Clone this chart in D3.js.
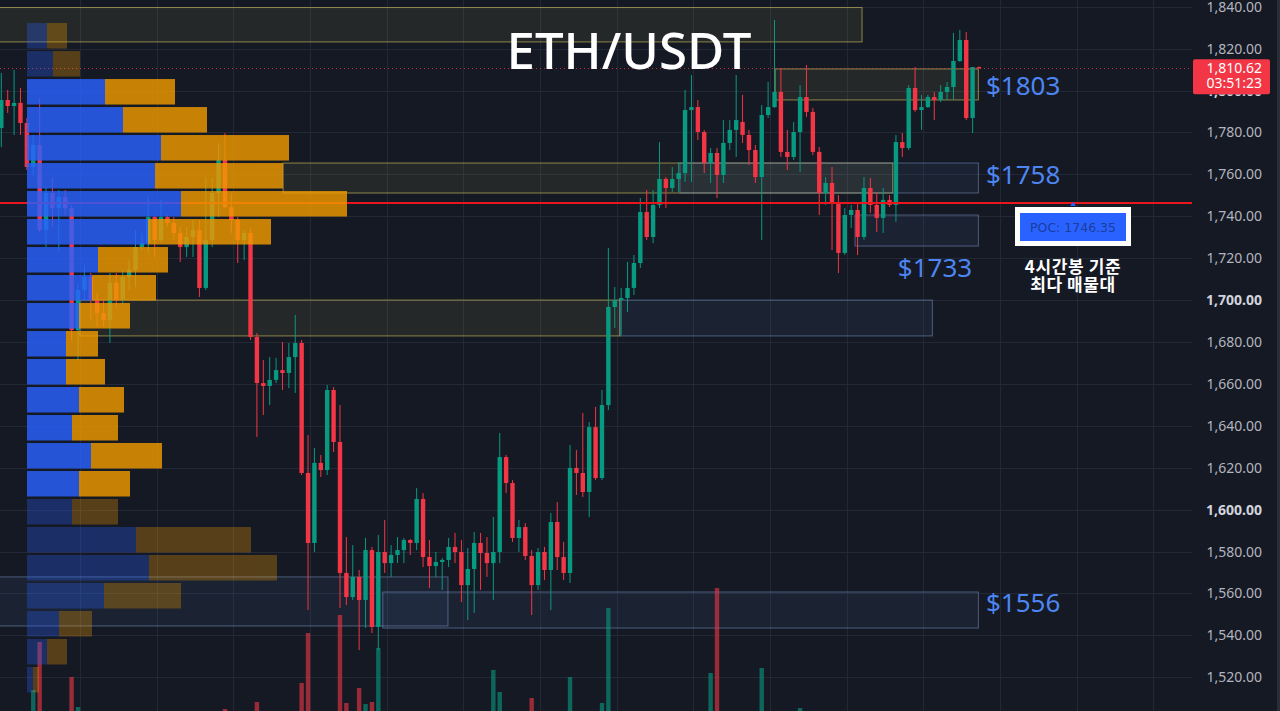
<!DOCTYPE html>
<html>
<head>
<meta charset="utf-8">
<script src="https://cdn.jsdelivr.net/npm/d3@7"></script>
<style>
  html, body { margin: 0; padding: 0; background: #151924; overflow: hidden; }
  svg { display: block; }
</style>
</head>
<body>
<div id="chart-area"></div>
<script>
const width = 1280;
const height = 711;
const plotRight = 1192;

// 4H candles: [open, high, low, close]
const candles = [
  [1782.1, 1808.4, 1773.0, 1795.5], [1795.5, 1800.3, 1789.3, 1792.6], [1792.6, 1809.8, 1778.8, 1794.1],
  [1794.1, 1801.2, 1778.8, 1784.5], [1784.5, 1786.9, 1762.1, 1763.5], [1763.5, 1778.8, 1759.7, 1774.0],
  [1774.0, 1796.4, 1732.5, 1733.4], [1733.4, 1754.0, 1725.3, 1751.1], [1751.1, 1758.3, 1734.9, 1743.9],
  [1743.9, 1752.5, 1723.0, 1749.2], [1749.2, 1752.5, 1740.6, 1743.9], [1743.9, 1745.4, 1681.0, 1685.7],
  [1685.7, 1708.2, 1671.4, 1704.8], [1704.8, 1716.7, 1700.0, 1711.0], [1711.0, 1712.9, 1690.5, 1700.0],
  [1700.0, 1703.4, 1687.2, 1693.8], [1693.8, 1700.0, 1687.2, 1690.5], [1690.5, 1712.9, 1679.5, 1708.2],
  [1708.2, 1712.9, 1696.7, 1700.0], [1700.0, 1714.4, 1697.7, 1711.0], [1711.0, 1719.1, 1704.8, 1714.4],
  [1714.4, 1733.4, 1706.2, 1725.3], [1725.3, 1732.0, 1723.9, 1727.2], [1727.2, 1749.2, 1722.5, 1739.6],
  [1739.6, 1740.5, 1720.6, 1728.7], [1728.7, 1747.8, 1727.5, 1739.6], [1739.6, 1740.6, 1734.9, 1736.8],
  [1736.8, 1739.6, 1728.7, 1732.0], [1732.0, 1734.9, 1718.2, 1725.3], [1725.3, 1734.9, 1720.6, 1730.1],
  [1730.1, 1738.2, 1720.6, 1733.4], [1733.4, 1738.2, 1701.5, 1705.8], [1705.8, 1758.7, 1704.8, 1728.7],
  [1728.7, 1758.3, 1725.3, 1751.1], [1751.1, 1775.0, 1739.6, 1766.9], [1766.9, 1779.7, 1743.9, 1744.4],
  [1744.4, 1751.1, 1732.0, 1738.2], [1738.2, 1739.6, 1717.7, 1728.7], [1728.7, 1733.4, 1719.1, 1732.0],
  [1732.0, 1734.4, 1681.0, 1682.4], [1682.4, 1684.3, 1634.7, 1660.4], [1660.4, 1671.4, 1645.2, 1659.0],
  [1659.0, 1672.8, 1649.9, 1661.9], [1661.9, 1672.4, 1660.4, 1666.6], [1666.6, 1680.0, 1657.1, 1665.2],
  [1665.2, 1679.5, 1658.0, 1672.8], [1672.8, 1692.9, 1655.7, 1679.5], [1679.5, 1681.0, 1616.5, 1617.5],
  [1617.5, 1635.6, 1552.1, 1584.1], [1584.1, 1629.4, 1579.8, 1622.3], [1622.3, 1626.1, 1615.6, 1618.9],
  [1618.9, 1659.5, 1616.5, 1657.1], [1657.1, 1658.5, 1627.5, 1632.3], [1632.3, 1649.9, 1553.1, 1569.8],
  [1569.8, 1586.9, 1554.5, 1558.3], [1558.3, 1583.1, 1556.9, 1567.9], [1567.9, 1571.2, 1533.0, 1556.9],
  [1556.9, 1586.5, 1543.5, 1580.7], [1580.7, 1582.2, 1541.1, 1544.0], [1544.0, 1587.9, 1533.0, 1579.8],
  [1579.8, 1595.1, 1569.8, 1574.5], [1574.5, 1583.1, 1567.9, 1578.4], [1578.4, 1586.9, 1574.5, 1580.7],
  [1580.7, 1586.5, 1574.5, 1585.5], [1585.5, 1586.0, 1578.4, 1584.1], [1584.1, 1610.3, 1580.7, 1605.1],
  [1605.1, 1607.9, 1572.6, 1577.4], [1577.4, 1585.5, 1562.6, 1573.1], [1573.1, 1579.8, 1567.9, 1575.0],
  [1575.0, 1576.9, 1561.7, 1576.0], [1576.0, 1586.5, 1572.6, 1582.2], [1582.2, 1588.9, 1574.5, 1579.8],
  [1579.8, 1585.5, 1555.9, 1564.0], [1564.0, 1581.7, 1547.3, 1571.7], [1571.7, 1589.3, 1550.7, 1584.1],
  [1584.1, 1588.9, 1561.7, 1579.3], [1579.3, 1586.9, 1567.9, 1574.5], [1574.5, 1596.5, 1556.9, 1579.8],
  [1579.8, 1636.6, 1574.5, 1625.1], [1625.1, 1626.1, 1607.9, 1612.7], [1612.7, 1614.1, 1584.6, 1586.5],
  [1586.5, 1595.1, 1579.8, 1591.7], [1591.7, 1593.6, 1576.0, 1577.9], [1577.9, 1580.7, 1549.7, 1564.0],
  [1564.0, 1581.7, 1561.7, 1579.8], [1579.8, 1582.2, 1566.4, 1571.2], [1571.2, 1598.4, 1552.1, 1594.1],
  [1594.1, 1603.6, 1571.2, 1577.4], [1577.4, 1584.6, 1566.4, 1569.8], [1569.8, 1630.8, 1565.0, 1619.9],
  [1619.9, 1628.5, 1607.0, 1617.5], [1617.5, 1646.1, 1606.0, 1608.4], [1608.4, 1641.8, 1596.5, 1639.4],
  [1639.4, 1649.0, 1614.1, 1615.1], [1615.1, 1657.1, 1614.1, 1649.9], [1649.9, 1724.9, 1647.5, 1696.7],
  [1696.7, 1706.2, 1686.7, 1700.0], [1700.0, 1705.8, 1683.3, 1701.0], [1701.0, 1718.2, 1694.3, 1705.8],
  [1705.8, 1721.5, 1702.4, 1717.7], [1717.7, 1748.7, 1715.3, 1742.0], [1742.0, 1752.5, 1728.7, 1730.1],
  [1730.1, 1752.5, 1727.2, 1745.4], [1745.4, 1775.4, 1743.9, 1757.8], [1757.8, 1758.7, 1743.9, 1753.5],
  [1753.5, 1763.5, 1751.6, 1757.8], [1757.8, 1765.9, 1751.6, 1760.6], [1760.6, 1800.3, 1756.4, 1790.7],
  [1790.7, 1807.4, 1756.4, 1792.1], [1792.1, 1795.5, 1776.4, 1780.2], [1780.2, 1781.2, 1760.6, 1765.4],
  [1765.4, 1772.6, 1755.9, 1770.2], [1770.2, 1772.6, 1748.7, 1759.7], [1759.7, 1785.9, 1755.9, 1775.0],
  [1775.0, 1785.9, 1771.6, 1781.2], [1781.2, 1807.4, 1768.3, 1785.9], [1785.0, 1797.9, 1775.0, 1778.8],
  [1778.8, 1781.2, 1764.5, 1771.6], [1771.6, 1774.0, 1755.9, 1758.7], [1758.7, 1793.1, 1728.7, 1788.3],
  [1788.3, 1804.1, 1786.9, 1792.1], [1792.1, 1833.7, 1791.7, 1799.3], [1799.3, 1810.8, 1768.3, 1770.7],
  [1770.7, 1781.2, 1762.1, 1768.3], [1768.3, 1785.0, 1766.9, 1780.2], [1780.2, 1802.6, 1761.1, 1796.9],
  [1796.9, 1812.2, 1787.4, 1789.8], [1789.8, 1791.7, 1769.2, 1770.7], [1770.7, 1773.0, 1740.6, 1751.1],
  [1751.1, 1758.7, 1745.4, 1755.9], [1755.9, 1763.5, 1723.9, 1746.3], [1746.3, 1750.1, 1712.9, 1722.5],
  [1722.5, 1743.9, 1721.5, 1740.6], [1740.6, 1745.4, 1734.4, 1743.0], [1743.0, 1746.8, 1721.5, 1730.1],
  [1730.1, 1758.7, 1728.7, 1753.5], [1753.5, 1758.3, 1741.6, 1745.4], [1745.4, 1751.1, 1732.5, 1739.2],
  [1739.2, 1753.5, 1732.0, 1747.8], [1747.8, 1750.1, 1744.4, 1745.4], [1745.4, 1778.8, 1737.3, 1775.4],
  [1775.4, 1779.7, 1768.3, 1772.6], [1772.6, 1802.6, 1771.6, 1801.2], [1801.2, 1811.2, 1789.8, 1790.7],
  [1790.7, 1797.9, 1781.2, 1792.1], [1792.1, 1797.9, 1791.7, 1796.9], [1796.9, 1799.3, 1785.9, 1795.5],
  [1795.5, 1802.6, 1794.5, 1799.3], [1799.3, 1804.1, 1795.5, 1801.7], [1801.7, 1827.5, 1795.5, 1814.1],
  [1814.1, 1828.9, 1813.6, 1824.1], [1824.1, 1827.9, 1785.9, 1786.9], [1786.9, 1811.2, 1779.7, 1811.2],
  [1811.2, 1811.5, 1810.3, 1810.62]
];

// volume of the candles whose bars reach into view: [candle index, volume (K)]
const volumes = [
  [5, 50], [6, 98], [11, 63], [12, 33], [35, 31], [40, 38], [47, 57], [48, 107], [53, 125],
  [54, 37], [56, 52], [57, 36], [58, 38], [59, 92], [77, 70], [78, 48], [83, 42], [89, 63],
  [94, 37], [95, 132], [111, 67], [112, 152], [119, 72], [125, 32]
];

// volume profile, rows from the top price down
const profileTop = 1832.2;
const profileStep = 13.36;
const profileBuy  = [20, 26, 78, 96, 134, 128, 154, 121, 71, 65, 52, 39, 39, 52, 45, 64, 52, 45, 109, 122, 77, 32, 20, 6];
const profileSell = [20, 27, 70, 84, 128, 128, 166, 123, 70, 64, 51, 32, 39, 45, 46, 71, 51, 46, 115, 128, 77, 33, 20, 6];
const valueArea = [2, 16]; // first and last row inside the value area

// zones: candle index from/to, price top/bottom
const supplyZones = [
  { from: -0.5, to: 134.7, top: 1839.6, bottom: 1823.2 },
  { from: 121.1, to: 152.9, top: 1810.3, bottom: 1795.5 },
  { from: 44.1, to: 139.5, top: 1765.4, bottom: 1751.1 },
  { from: 12.3, to: 96.8, top: 1700.0, bottom: 1682.9 }
];
const demandZones = [
  { from: 106.2, to: 152.9, top: 1765.4, bottom: 1751.1 },
  { from: 133.6, to: 152.9, top: 1740.6, bottom: 1725.8 },
  { from: 96.8, to: 145.7, top: 1700.0, bottom: 1682.9 },
  { from: -0.5, to: 69.9, top: 1567.9, bottom: 1544.5 },
  { from: 59.7, to: 152.9, top: 1560.7, bottom: 1543.5 }
];

// level labels right of the zones, and the price each is centred on
const levelLabels = ['$1803', '$1758', '$1556'];
const levelAnchors = [1802.2, 1759.7, 1555.4];

const priceTicks = [1520, 1540, 1560, 1580, 1600, 1620, 1640, 1660, 1680, 1700, 1720, 1740, 1760, 1780, 1800, 1820, 1840];
const poc = 1746.35;
const lastPrice = 1810.62;
const countdown = '03:51:23';
const pocNote = ['4시간봉 기준', '최다 매물대'];

const up = '#089981';
const down = '#f23645';

const svg = d3.select('#chart-area')
    .append('svg')
    .attr('width', width)
    .attr('height', height)
    .style('background', '#151924');

const defs = svg.append('defs');
defs.append('clipPath')
    .attr('id', 'plot-clip')
    .append('rect')
    .attr('width', plotRight)
    .attr('height', height);

// Scales
const x = d3.scaleLinear()
    .domain([0, candles.length - 1])
    .range([1.3, 979]);

const y = d3.scaleLinear()
    .domain([1520, 1840])
    .range([677.3, 6.7]);

const vol = d3.scaleLinear()
    .domain([0, 200])
    .range([740, 540]);

const prof = d3.scaleLinear()
    .domain([0, 320])
    .range([27, 347]);

const plot = svg.append('g').attr('clip-path', 'url(#plot-clip)');

// Grid
plot.append('g')
    .selectAll('line')
    .data(priceTicks)
    .join('line')
    .attr('x1', 0)
    .attr('x2', plotRight)
    .attr('y1', (d) => Math.round(y(d)) + 0.5)
    .attr('y2', (d) => Math.round(y(d)) + 0.5)
    .attr('stroke', '#232836');

plot.append('g')
    .selectAll('line')
    .data(d3.range(12.3, 190, 12))
    .join('line')
    .attr('x1', (d) => Math.round(x(d)) + 0.5)
    .attr('x2', (d) => Math.round(x(d)) + 0.5)
    .attr('y1', 0)
    .attr('y2', height)
    .attr('stroke', '#232836');

// Zones
plot.append('g')
    .selectAll('rect')
    .data(supplyZones)
    .join('rect')
    .attr('x', (d) => x(d.from))
    .attr('y', (d) => y(d.top))
    .attr('width', (d) => x(d.to) - x(d.from))
    .attr('height', (d) => y(d.bottom) - y(d.top))
    .attr('fill', 'rgba(255, 235, 100, 0.07)')
    .attr('stroke', 'rgba(215, 200, 95, 0.6)');

plot.append('g')
    .selectAll('rect')
    .data(demandZones)
    .join('rect')
    .attr('x', (d) => x(d.from))
    .attr('y', (d) => y(d.top))
    .attr('width', (d) => x(d.to) - x(d.from))
    .attr('height', (d) => y(d.bottom) - y(d.top))
    .attr('fill', 'rgba(90, 130, 200, 0.09)')
    .attr('stroke', 'rgba(130, 160, 210, 0.5)');

// Volume bars
plot.append('g')
    .selectAll('rect')
    .data(volumes)
    .join('rect')
    .attr('x', (d) => x(d[0]) - 2.2)
    .attr('y', (d) => vol(d[1]))
    .attr('width', 4.4)
    .attr('height', (d) => vol(0) - vol(d[1]))
    .attr('fill', (d) => {
        const c = candles[d[0]];
        return c[3] >= c[0] ? up : down;
    })
    .attr('opacity', 0.6);

// Candles
const candleG = plot.append('g')
    .selectAll('g')
    .data(candles)
    .join('g')
    .attr('fill', (d) => d[3] >= d[0] ? up : down)
    .attr('stroke', (d) => d[3] >= d[0] ? up : down);

candleG.append('line')
    .attr('x1', (d, i) => x(i))
    .attr('x2', (d, i) => x(i))
    .attr('y1', (d) => y(d[1]))
    .attr('y2', (d) => y(d[2]))
    .attr('stroke-width', 1);

candleG.append('rect')
    .attr('x', (d, i) => x(i) - 2.2)
    .attr('y', (d) => y(Math.max(d[0], d[3])))
    .attr('width', 4.4)
    .attr('height', (d) => Math.max(1, Math.abs(y(d[0]) - y(d[3]))))
    .attr('stroke', 'none');

// POC line and last price line
plot.append('line')
    .attr('x1', 0)
    .attr('x2', plotRight)
    .attr('y1', y(poc))
    .attr('y2', y(poc))
    .attr('stroke', '#e8171c')
    .attr('stroke-width', 2);

plot.append('line')
    .attr('x1', 0)
    .attr('x2', plotRight)
    .attr('y1', Math.round(y(lastPrice)) + 0.5)
    .attr('y2', Math.round(y(lastPrice)) + 0.5)
    .attr('stroke', down)
    .attr('stroke-dasharray', '1 3')
    .attr('opacity', 0.8);

// Volume profile
const rows = plot.append('g')
    .selectAll('g')
    .data(profileBuy)
    .join('g')
    .attr('opacity', (d, i) => i >= valueArea[0] && i <= valueArea[1] ? 0.82 : 0.3);

const rowY = (i) => y(profileTop - i * profileStep);
const rowH = y(profileTop - profileStep) - y(profileTop) - 2.5;

rows.append('rect')
    .attr('x', prof(0))
    .attr('y', (d, i) => rowY(i))
    .attr('width', (d) => prof(d) - prof(0))
    .attr('height', rowH)
    .attr('fill', '#2962ff');

rows.append('rect')
    .attr('x', (d) => prof(d))
    .attr('y', (d, i) => rowY(i))
    .attr('width', (d, i) => prof(profileSell[i]) - prof(0))
    .attr('height', rowH)
    .attr('fill', '#ef9a00');

// Level labels
const levelFont = '"Noto Sans", "Open Sans", sans-serif';
svg.append('g')
    .selectAll('text')
    .data(levelLabels)
    .join('text')
    .attr('x', x(candles.length - 1) + 7)
    .attr('y', (d, i) => y(levelAnchors[i]) + 9)
    .attr('fill', '#4d86f2')
    .attr('font-family', levelFont)
    .attr('font-size', 26)
    .text((d) => d);

svg.append('text')
    .attr('x', 935)
    .attr('y', 277)
    .attr('text-anchor', 'middle')
    .attr('fill', '#4d86f2')
    .attr('font-family', levelFont)
    .attr('font-size', 26)
    .text('$1733');

// Title
svg.append('text')
    .attr('x', 629)
    .attr('y', 69)
    .attr('text-anchor', 'middle')
    .attr('fill', '#ffffff')
    .attr('font-family', levelFont)
    .attr('font-weight', 500)
    .attr('font-size', 51)
    .text('ETH/USDT');

// POC callout
const pocX = 1073;
svg.append('path')
    .attr('d', `M${pocX - 3},${y(poc) + 3} L${pocX},${y(poc) - 1} L${pocX + 3},${y(poc) + 3} Z`)
    .attr('fill', '#2962ff');

svg.append('rect')
    .attr('x', 1015)
    .attr('y', 207)
    .attr('width', 116)
    .attr('height', 39)
    .attr('fill', '#ffffff');

svg.append('rect')
    .attr('x', 1020)
    .attr('y', 213)
    .attr('width', 106)
    .attr('height', 28)
    .attr('fill', '#2962ff');

svg.append('text')
    .attr('x', pocX)
    .attr('y', 232)
    .attr('text-anchor', 'middle')
    .attr('fill', '#1c3d9c')
    .attr('font-family', '"DejaVu Sans", sans-serif')
    .attr('font-size', 12.5)
    .text(`POC: ${poc}`);

svg.append('g')
    .selectAll('text')
    .data(pocNote)
    .join('text')
    .attr('x', pocX)
    .attr('y', (d, i) => 273 + i * 18)
    .attr('text-anchor', 'middle')
    .attr('fill', '#ffffff')
    .attr('font-family', '"Noto Sans CJK KR", sans-serif')
    .attr('font-weight', 600)
    .attr('font-size', 17)
    .attr('letter-spacing', 0.6)
    .text((d) => d);

// Price axis (the 1,800 label is only visible below the last-price tag)
defs.append('clipPath')
    .attr('id', 'axis-clip')
    .append('path')
    .attr('d', `M${plotRight},0 H${width} V${y(lastPrice) - 9} H${plotRight} Z M${plotRight},${y(lastPrice) + 26} H${width} V${height} H${plotRight} Z`);

const fmt = d3.format(',.2f');
svg.append('g')
    .attr('clip-path', 'url(#axis-clip)')
    .selectAll('text')
    .data(priceTicks)
    .join('text')
    .attr('x', 1262)
    .attr('y', (d) => y(d) + 5)
    .attr('text-anchor', 'end')
    .attr('fill', (d) => d % 100 === 0 ? '#d1d4dc' : '#b2b5be')
    .attr('font-weight', (d) => d % 100 === 0 ? 700 : 400)
    .attr('font-family', '"Noto Sans", sans-serif')
    .attr('font-size', 14)
    .text((d) => fmt(d));

// Last price tag
const tagY = y(lastPrice);
svg.append('rect')
    .attr('x', 1193)
    .attr('y', tagY - 9)
    .attr('width', 77)
    .attr('height', 35)
    .attr('rx', 2)
    .attr('fill', down);

svg.append('g')
    .selectAll('text')
    .data([fmt(lastPrice), countdown])
    .join('text')
    .attr('x', 1262)
    .attr('y', (d, i) => tagY + 5 + i * 15)
    .attr('text-anchor', 'end')
    .attr('fill', '#ffffff')
    .attr('font-family', '"Noto Sans", sans-serif')
    .attr('font-size', 14)
    .text((d) => d);

svg.append('rect')
    .attr('x', 1277)
    .attr('y', 0)
    .attr('width', 3)
    .attr('height', height)
    .attr('fill', '#2a2e39');
</script>
</body>
</html>
